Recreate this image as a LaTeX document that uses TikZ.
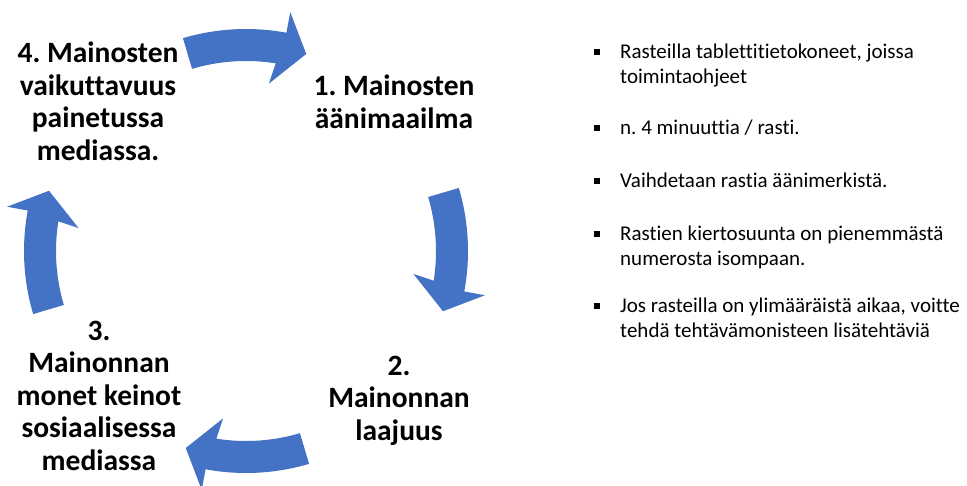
\documentclass[tikz,border=0pt]{standalone}
\usepackage{fontspec}
\setmainfont[Ligatures=NoCommon]{Carlito}
\definecolor{arrowblue}{HTML}{4472C4}
\tikzset{
  cyclelabel/.style={anchor=base, inner sep=0pt, align=center,
    font=\bfseries\fontsize{29.5}{32.5}\selectfont},
  bullettext/.style={anchor=base west, inner sep=0pt, align=left,
    font=\fontsize{21}{25}\selectfont},
  bulletsq/.style={fill=black, inner sep=0pt, minimum size=5.5pt},
  cycarrow/.pic={
    \fill[arrowblue] (106.5:190) -- (106.5:222)
      arc[start angle=106.5, end angle=79.5, radius=222]
      -- (79.5:243) -- (73:206) -- (82.2:169) -- (81:190)
      arc[start angle=81, end angle=106.5, radius=190] -- cycle;
  }
}
\frenchspacing
\begin{document}
\begin{tikzpicture}[x=1pt,y=1pt]
\useasboundingbox[fill=white] (0,0) rectangle (967,-485);
\coordinate (C) at (246,-251);
% cycle arrows
\pic at (C) {cycarrow};
\pic[rotate=-90] at (C) {cycarrow};
\pic[rotate=-180] at (C) {cycarrow};
\pic[rotate=-270] at (C) {cycarrow};
% labels (anchor = baseline of last line)
\node[cyclelabel] (l1) at (394,-128) {1. Mainosten\\äänimaailma};
\node[cyclelabel] (l2) at (399,-440) {2.\\Mainonnan\\laajuus};
\node[cyclelabel] (l3) at (99,-470) {3.\\Mainonnan\\monet keinot\\sosiaalisessa\\mediassa};
\node[cyclelabel] (l4) at (98,-160) {4. Mainosten\\vaikuttavuus\\painetussa\\mediassa.};
% bullet list
\node[bullettext] (t1) at (620,-83) {Rasteilla tablettitietokoneet, joissa\\toimintaohjeet};
\node[bullettext] (t2) at (620,-134) {n. 4 minuuttia / rasti.};
\node[bullettext] (t3) at (620,-187) {Vaihdetaan rastia äänimerkistä.};
\node[bullettext] (t4) at (620,-265) {Rastien kiertosuunta on pienemmästä\\numerosta isompaan.};
\node[bullettext] (t5) at (620,-337) {Jos rasteilla on ylimääräistä aikaa, voitte\\tehdä tehtävämonisteen lisätehtäviä};
\node[bulletsq] (b1) at (597,-52) {};
\node[bulletsq] (b2) at (597,-128) {};
\node[bulletsq] (b3) at (597,-181) {};
\node[bulletsq] (b4) at (597,-234) {};
\node[bulletsq] (b5) at (597,-306) {};
\end{tikzpicture}
\end{document}
